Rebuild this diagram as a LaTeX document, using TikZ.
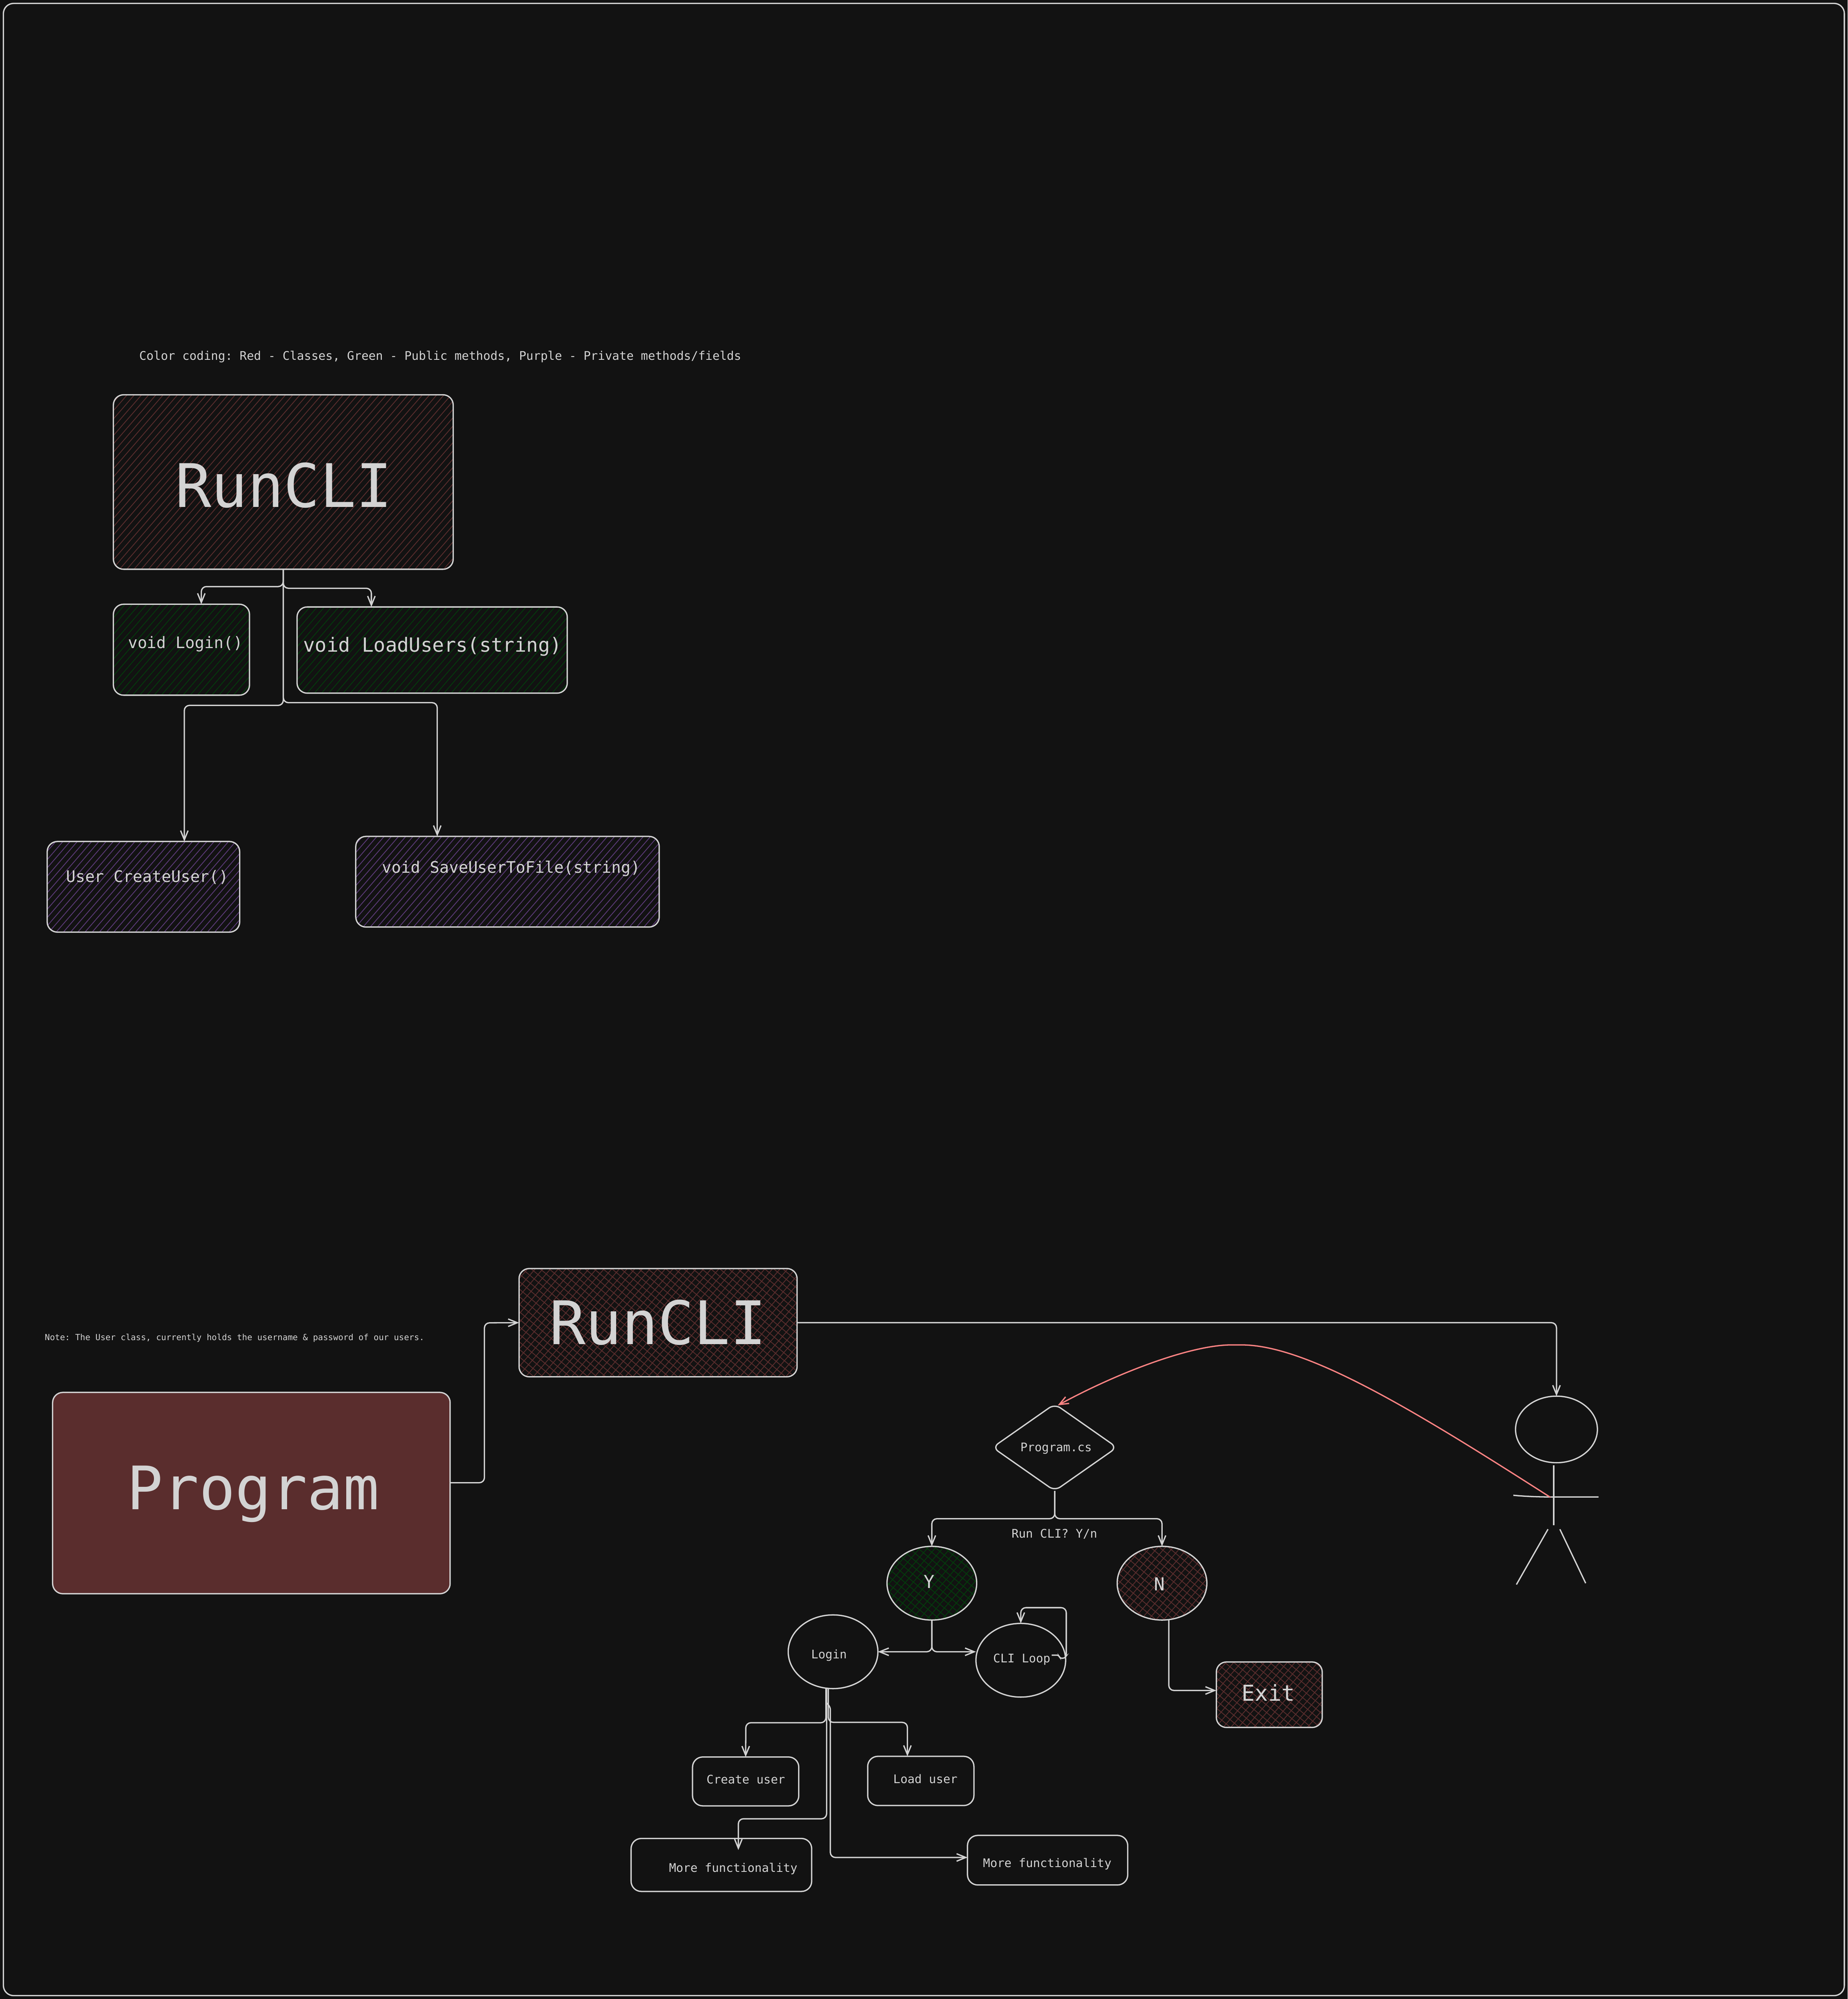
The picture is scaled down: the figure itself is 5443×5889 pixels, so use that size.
\documentclass[tikz,border=0pt]{standalone}
\usepackage{fontspec}
\setmonofont{DejaVu Sans Mono}
\usepackage{xcolor}
\usepackage{tikz}
\usetikzlibrary{arrows.meta,fit,shapes.geometric,patterns.meta}

\definecolor{bgcol}{HTML}{121212}
\definecolor{inkcol}{HTML}{D3D3D3}
\definecolor{redcol}{HTML}{5A2D2D}
\definecolor{greencol}{HTML}{043B0C}
\definecolor{purplecol}{HTML}{5B3A78}
\definecolor{linkcol}{HTML}{FF8383}

\tikzset{
	shapeline/.style={draw=inkcol, line width=1.1pt, inner sep=0pt, outer sep=0pt},
	plainbox/.style={shapeline, rectangle, rounded corners=0.3cm},
	round/.style={shapeline, ellipse, minimum width=2.64cm, minimum height=2.17cm},
	hatch/.style={pattern={Lines[angle=49,distance=1.6mm,line width=0.65pt]}, pattern color=#1},
	crosshatch/.style={preaction={pattern={Lines[angle=-40,distance=1.7mm,line width=0.65pt]}, pattern color=#1},
		pattern={Lines[angle=49,distance=1.7mm,line width=0.65pt]}, pattern color=#1},
	edge/.style={draw=inkcol, line width=1.1pt, rounded corners=0.15cm, -{Straight Barb[length=0.27cm,width=0.22cm]}},
	txt/.style={text=inkcol, inner sep=0pt, anchor=base, font=\ttfamily\fontsize{#1}{#1}\selectfont},
}

\begin{document}
\begin{tikzpicture}[x=0.01cm, y=-0.01cm]
	\fill[bgcol] (0,0) rectangle (5443,5889);
	\draw[inkcol, line width=1.1pt, rounded corners=0.3cm] (10,10) rectangle (5433,5879);

	% Class overview
	\node[txt=9.97pt] (colornote) at (1297,1061) {Color coding: Red - Classes, Green - Public methods, Purple - Private methods/fields};
	\node[plainbox, hatch=redcol, fit={(334,1163) (1335,1677)}] (runcli) {};
	\node[plainbox, hatch=greencol, fit={(334,1780) (735,2048)}] (loginbox) {};
	\node[plainbox, hatch=greencol, fit={(875,1788) (1671,2042)}] (loadbox) {};
	\node[plainbox, hatch=purplecol, fit={(139,2479) (706,2746)}] (userbox) {};
	\node[plainbox, hatch=purplecol, fit={(1048,2464) (1942,2731)}] (savebox) {};
	\node[txt=50.3pt] (runclitxt) at (836,1494) {RunCLI};
	\node[txt=13.3pt] (logintxt) at (546,1910) {void Login()};
	\node[txt=16.35pt] (loadtxt) at (1274,1920) {void LoadUsers(string)};
	\node[txt=13.3pt] (usertxt) at (434,2599) {User CreateUser()};
	\node[txt=13.3pt] (savetxt) at (1506,2572) {void SaveUserToFile(string)};

	\draw[edge] (runcli.south) |- (593,1728) -- (593,0 |- loginbox.north);
	\draw[edge] (runcli.south) |- (1094,1733) -- (1094,0 |- loadbox.north);
	\draw[edge] (runcli.south) |- (543,2078) -- (543,0 |- userbox.north);
	\draw[edge] (runcli.south) |- (1288,2070) -- (1288,0 |- savebox.north);

	% Program flow
	\node[txt=7.04pt] (usernote) at (691,3948) {Note: The User class, currently holds the username \& password of our users.};
	\node[plainbox, fill=redcol, fit={(155,4102) (1326,4695)}] (programbox) {};
	\node[plainbox, crosshatch=redcol, fit={(1529,3737) (2348,4056)}] (runclitwo) {};
	\node[txt=50.2pt] (programtxt) at (746,4447) {Program};
	\node[txt=50.3pt] (runclitwotxt) at (1938,3960) {RunCLI};

	\node[shapeline, diamond, aspect=1.43, rounded corners=0.2cm, minimum width=3.66cm, minimum height=2.56cm] (programcs) at (3107,4264) {};
	\node[txt=9.93pt] (programcstxt) at (3111,4276) {Program.cs};
	\node[txt=9.93pt] (askcli) at (3106,4530) {Run CLI? Y/n};
	\node[round, crosshatch=greencol] (yes) at (2745,4664) {};
	\node[round, crosshatch=redcol] (no) at (3423,4664) {};
	\node[round] (login) at (2454,4866) {};
	\node[round] (cliloop) at (3007,4891) {};
	\node[plainbox, crosshatch=redcol, fit={(3583,4896) (3895,5089)}] (exitbox) {};
	\node[plainbox, fit={(2040,5176) (2353,5320)}] (createbox) {};
	\node[plainbox, fit={(2556,5174) (2869,5319)}] (loaduser) {};
	\node[plainbox, fit={(1859,5416) (2391,5572)}] (moreleft) {};
	\node[plainbox, fit={(2850,5407) (3322,5553)}] (moreright) {};
	\node[txt=15pt] (yestxt) at (2737,4679) {Y};
	\node[txt=15pt] (notxt) at (3415,4686) {N};
	\node[txt=9.93pt] (logincircle) at (2442,4886) {Login};
	\node[txt=9.93pt] (clilooptxt) at (3010,4898) {CLI Loop};
	\node[txt=18.4pt] (exittxt) at (3736,5011) {Exit};
	\node[txt=9.93pt] (createtxt) at (2197,5255) {Create user};
	\node[txt=9.93pt] (loadusertxt) at (2726,5253) {Load user};
	\node[txt=9.93pt] (morelefttxt) at (2160,5515) {More functionality};
	\node[txt=9.93pt] (morerighttxt) at (3085,5501) {More functionality};

	% Stick figure
	\node[round, minimum width=2.41cm, minimum height=1.96cm] (head) at (4585,4211) {};
	\coordinate (hand) at (4567,4411);
	\draw[inkcol, line width=1.1pt] (4577,4316) -- (4577,4493);
	\draw[inkcol, line width=1.1pt] (4458,4405) .. controls (4500,4409) and (4540,4410) .. (4580,4410) -- (4709,4410);
	\draw[inkcol, line width=1.1pt] (4560,4505) -- (4467,4668);
	\draw[inkcol, line width=1.1pt] (4595,4505) -- (4671,4664);

	\draw[edge] (programbox.east |- 0,4368) -| (1427,3897) -- (runclitwo.west);
	\draw[edge] (runclitwo.east) -| (head.north);
	\draw[edge, draw=linkcol] (hand) .. controls (4167,4155) and (3850,3962) .. (3642,3962) .. controls (3512,3962) and (3300,4040) .. (3116,4140);

	\draw[edge] (programcs.south) -- (3107,4474) -| (yes.north);
	\draw[edge] (programcs.south) -- (3107,4474) -| (no.north);
	\draw[edge] (yes.south) |- (login.east);
	\draw[edge] (yes.south) |- (cliloop.west |- login.east);
	\coordinate (loopstart) at (3098,4876);
	\draw[edge, rounded corners=0.05cm] (loopstart) -- (3119,4876) -- (3122,4885) -- (3136,4885) -- (3141,4878) [rounded corners=0.15cm] -- (3141,4736) -- (3007,4736) -- (cliloop.north);
	\draw[edge] (3443,0 |- no.south) |- (exitbox.west |- 0,4980);

	\draw[edge] (2433,0 |- login.south) |- (2197,5075) -- (createbox.north);
	\draw[edge] (2440,0 |- login.south) |- (2673,5074) -- (2673,0 |- loaduser.north);
	\draw[edge] (2435,0 |- login.south) |- (2175,5358) -- (2175,5450);
	\coordinate (hookstart) at (2439,5019);
	\draw[edge] (hookstart) -- (2446,5022) |- (moreright.west |- 0,5472);
\end{tikzpicture}
\end{document}
